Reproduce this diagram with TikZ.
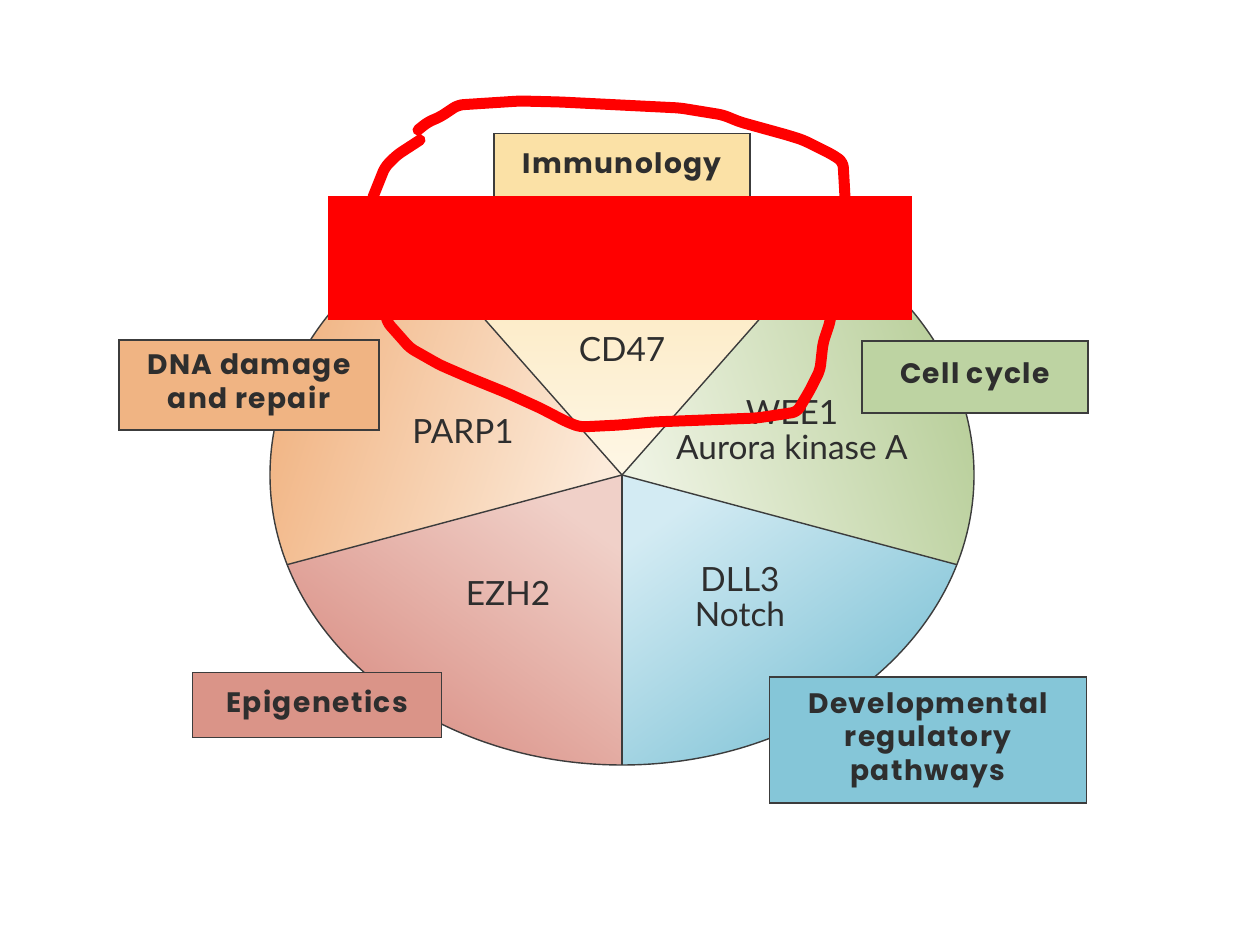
\documentclass[tikz,border=0pt]{standalone}
\usepackage{fontspec}
\setmainfont{Lato}
\newfontfamily\headfont{Poppins}[LetterSpace=5]
\usetikzlibrary{positioning}
\definecolor{inkgray}{HTML}{2E2E2E}
\definecolor{edgegray}{HTML}{3C3C3C}
\definecolor{immbox}{HTML}{FBE1A6}
\definecolor{immin}{HTML}{FEF7E6}
\definecolor{immout}{HTML}{FBE2AE}
\definecolor{dnabox}{HTML}{F0B483}
\definecolor{dnain}{HTML}{FCEBDA}
\definecolor{dnaout}{HTML}{F0AF7B}
\definecolor{cellbox}{HTML}{BDD3A2}
\definecolor{cellin}{HTML}{EEF3E3}
\definecolor{cellout}{HTML}{B3CB93}
\definecolor{epibox}{HTML}{DA9488}
\definecolor{epiin}{HTML}{F0D0C8}
\definecolor{epiout}{HTML}{D98D83}
\definecolor{devbox}{HTML}{85C6D8}
\definecolor{devin}{HTML}{D3EBF3}
\definecolor{devout}{HTML}{7CC1D5}
\definecolor{markred}{HTML}{FF0000}

\begin{document}
\begin{tikzpicture}[
  x=0.02cm, y=0.02cm,
  catbox/.style={rectangle, draw=edgegray, line width=0.9pt, align=center,
                 font=\headfont\bfseries\fontsize{16}{19}\selectfont, text=inkgray},
  sectlabel/.style={align=center, font=\fontsize{19}{20}\selectfont, text=inkgray},
  sectline/.style={draw=edgegray, line width=0.8pt}
]
\useasboundingbox (0,0) rectangle (1260,945);
\coordinate (c) at (622,470);

% pie sectors, pale at the centre
\foreach \a/\inn/\out [evaluate=\a as \sang using \a-54] in
    {54/immin/immout, 126/dnain/dnaout, 198/epiin/epiout, 270/devin/devout, 342/cellin/cellout}
  \shade[top color=\out, bottom color=\inn, shading angle=\sang]
    (c) -- ++(\a:352 and 290) arc[start angle=\a, delta angle=72, x radius=352, y radius=290] -- cycle;
\foreach \a in {54,126,198,270,342}
  \draw[sectline] (c) -- ++(\a:352 and 290);
\draw[sectline] (c) ellipse[x radius=352, y radius=290];

% sector labels
\node[sectlabel] (cd)    at (622,595) {CD47};
\node[sectlabel] (parp)  at (463,513) {PARP1};
\node[sectlabel] (wee)   at (792,515) {WEE1\\Aurora kinase A};
\node[sectlabel] (ezh)   at (508,352) {EZH2};
\node[sectlabel] (dll)   at (740,348) {DLL3\\Notch};

% category boxes
\node[catbox, fill=immbox,  minimum width=5.12cm, minimum height=1.34cm] (immuno)  at (622,778) {Immunology};
\node[catbox, fill=dnabox,  minimum width=5.2cm,  minimum height=1.8cm]  (dna)     at (249,560) {DNA damage\\and repair};
\node[catbox, fill=cellbox, minimum width=4.52cm, minimum height=1.44cm] (cellcyc) at (975,568) {Cell cycle};
\node[catbox, fill=epibox,  minimum width=4.98cm, minimum height=1.3cm]  (epigen)  at (317,240) {Epigenetics};
\node[catbox, fill=devbox,  minimum width=6.34cm, minimum height=2.52cm] (devel)   at (928,205) {Developmental\\regulatory\\pathways};

% hand-drawn red mark
\draw[markred, line width=0.22cm, line join=round, line cap=round, rounded corners=3pt]
  (373,748) -- (385,778) -- (397,790) -- (420,805) (418,815) -- (428,823) -- (440,828)
  -- (458,840) -- (520,844) -- (560,843) -- (680,837) -- (723,830) -- (740,823)
  -- (787,810) -- (803,805) -- (833,790) -- (843,783) -- (845,748) -- (838,680)
  -- (830,623) -- (823,602) -- (820,575) -- (810,555) -- (797,533) -- (757,527)
  -- (653,523) -- (620,520) -- (580,518) -- (567,523) -- (540,537) -- (507,552)
  -- (470,567) -- (440,580) -- (410,597) -- (403,605) -- (387,623) -- (376,690) -- (373,748);
\fill[markred] (328,625) rectangle (912,749);
\end{tikzpicture}
\end{document}
